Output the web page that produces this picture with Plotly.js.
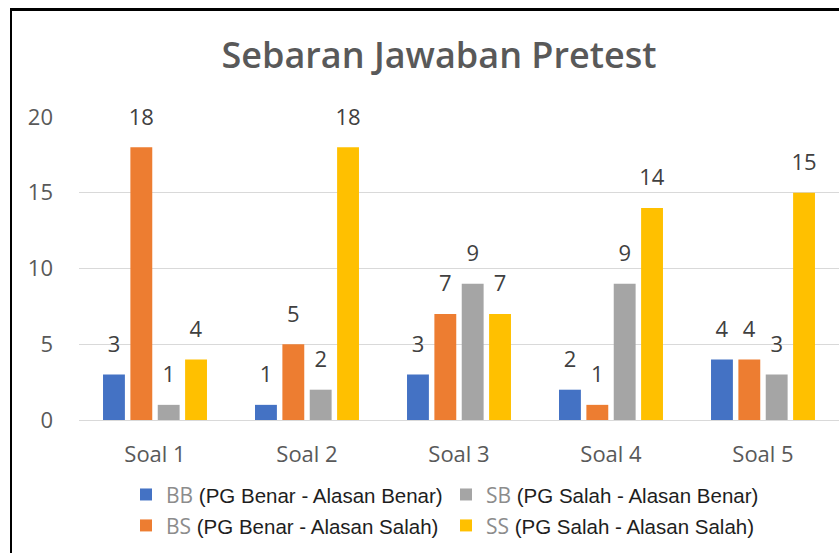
<!DOCTYPE html>
<html>
<head>
<meta charset="utf-8">
<script src="https://cdn.plot.ly/plotly-3.0.1.min.js"></script>
<style>
html,body{margin:0;padding:0;background:#fff;}
#wrap{position:relative;width:839px;height:553px;}
#chart{position:absolute;left:0;top:0;width:839px;height:553px;}
#frame{position:absolute;left:10px;top:8px;width:840px;height:560px;border-left:2px solid #000;border-top:3px solid #000;pointer-events:none;}
</style>
</head>
<body>
<div id="wrap"><div id="chart"></div><div id="frame"></div></div>
<script>
const categories = ["Soal 1", "Soal 2", "Soal 3", "Soal 4", "Soal 5"];
const seriesCodes = ["BB", "BS", "SB", "SS"];
const seriesDesc = ["(PG Benar - Alasan Benar)", "(PG Benar - Alasan Salah)", "(PG Salah - Alasan Benar)", "(PG Salah - Alasan Salah)"];
const valuesBB = [3, 1, 3, 2, 4];
const valuesBS = [18, 5, 7, 1, 4];
const valuesSB = [1, 2, 9, 9, 3];
const valuesSS = [4, 18, 7, 14, 15];
const colors = ["#4472C4", "#ED7D31", "#A5A5A5", "#FFC000"];
const yTicks = [0, 5, 10, 15, 20];

const allValues = [valuesBB, valuesBS, valuesSB, valuesSS];
const legendOf = ["legend", "legend", "legend2", "legend2"];

// value label: large first line, small blank second line lifts it off the bar
const labelOf = v => '<span style="font-size:22px">' + v + '</span><br>&nbsp;';

const traces = allValues.map((vals, i) => ({
  type: "bar",
  x: categories,
  y: vals,
  name: '<span style="font-family:Open Sans;font-size:21px;color:#8c8c8c">' + seriesCodes[i] + '</span><span style="font-size:20.5px;color:#1e1e1e"> ' + seriesDesc[i] + '</span>',
  marker: {color: colors[i]},
  text: vals.map(labelOf),
  textposition: "outside",
  constraintext: "none",
  textfont: {family: "Open Sans", size: 12, color: "#404040"},
  cliponaxis: false,
  legend: legendOf[i],
  hoverinfo: "x+y"
}));

const W = 839, H = 553, L = 79, R = 0, T = 117, B = 133;
const pw = W - L - R, ph = H - T - B;
const px = x => (x - L) / pw;
const py = y => (H - B - y) / ph;

const legendFont = {family: "Liberation Sans", size: 21.5, color: "#1e1e1e"};

const layout = {
  width: W, height: H,
  margin: {l: L, r: R, t: T, b: B, pad: 0},
  paper_bgcolor: "#fff",
  plot_bgcolor: "#fff",
  font: {family: "Open Sans", color: "#595959"},
  title: {
    text: "Sebaran Jawaban Pretest",
    font: {family: "Open Sans", size: 36, color: "#595959", weight: 600},
    xref: "container", yref: "container",
    x: 439 / W, y: 1 - 55 / H, xanchor: "center", yanchor: "middle"
  },
  barmode: "group",
  bargap: 0.28,
  bargroupgap: 0.2,
  xaxis: {
    type: "category",
    showgrid: false,
    showline: true, linecolor: "#d9d9d9", linewidth: 1,
    ticks: "",
    tickfont: {family: "Open Sans", size: 22, color: "#595959"},
    ticklabelstandoff: 15,
    fixedrange: true
  },
  yaxis: {
    range: [0, 20],
    tickvals: yTicks,
    showgrid: true, gridcolor: "#d9d9d9", gridwidth: 1,
    zeroline: false, showline: false,
    ticks: "",
    tickfont: {family: "Open Sans", size: 22, color: "#595959"},
    ticklabelstandoff: 25,
    fixedrange: true
  },
  legend: {
    x: px(126), y: py(474), xanchor: "left", yanchor: "top",
    orientation: "v", font: legendFont,
    bgcolor: "rgba(0,0,0,0)", borderwidth: 0
  },
  legend2: {
    x: px(446), y: py(474), xanchor: "left", yanchor: "top",
    orientation: "v", font: legendFont,
    bgcolor: "rgba(0,0,0,0)", borderwidth: 0
  },
  showlegend: true
};

Plotly.newPlot("chart", traces, layout, {displayModeBar: false, staticPlot: true});
</script>
</body>
</html>
